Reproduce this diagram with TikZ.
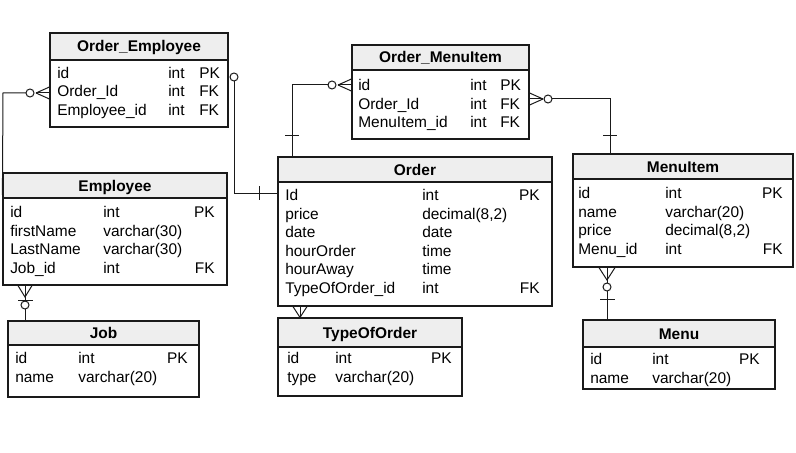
\documentclass[tikz,border=0pt]{standalone}
\usepackage{fontspec}
\setmainfont{Liberation Sans}
\usetikzlibrary{fit}
\definecolor{hdrgray}{HTML}{EEEEEE}
\definecolor{ink}{HTML}{1A1A1A}
\tikzset{
  tbox/.style={draw=ink, line width=0.9pt, fill=white, inner sep=0pt},
  thead/.style={draw=ink, line width=0.9pt, fill=hdrgray, inner sep=0pt},
  ttitle/.style={anchor=base, inner sep=0pt, font=\fontsize{11.6}{13}\selectfont\bfseries},
  cell/.style={anchor=base west, inner sep=0pt, font=\fontsize{11.6}{13}\selectfont},
  conn/.style={draw=ink, line width=0.75pt},
  ring/.style={draw=ink, line width=0.75pt, fill=white, circle, minimum size=6pt, inner sep=0pt}
}
\newcommand\erow[9]{% id, y, xn, xt, xk, name, type, key, key anchor
  \node[cell] (#1-n) at (#3,#2) {#6};
  \node[cell] (#1-t) at (#4,#2) {#7};
  \if\relax\detokenize{#8}\relax\else
  \node[cell,anchor=base #9] (#1-k) at (#5,#2) {#8};\fi}
\begin{document}
\begin{tikzpicture}[x=0.75pt,y=-0.75pt]
\useasboundingbox (0,0) rectangle (796,453);

% ---------- Order_Employee
\node[tbox, fit={(50,33) (228,127)}] (oe) {};
\node[thead, fit={(50,33) (228,60)}] (oe-h) {};
\node[ttitle] (oe-t) at (139,52) {Order\_Employee};
\erow{oe1}{78.5}{57}{168}{199}{id}{int}{PK}{west}
\erow{oe2}{97}{57}{168}{199}{Order\_Id}{int}{FK}{west}
\erow{oe3}{115.5}{57}{168}{199}{Employee\_id}{int}{FK}{west}

% ---------- Order_MenuItem
\node[tbox, fit={(352,45) (529,139)}] (om) {};
\node[thead, fit={(352,45) (529,70)}] (om-h) {};
\node[ttitle] (om-t) at (440.5,63) {Order\_MenuItem};
\erow{om1}{90.5}{358}{470}{500}{id}{int}{PK}{west}
\erow{om2}{109}{358}{470}{500}{Order\_Id}{int}{FK}{west}
\erow{om3}{127.5}{358}{470}{500}{MenuItem\_id}{int}{FK}{west}

% ---------- Employee
\node[tbox, fit={(3,173) (227,285)}] (emp) {};
\node[thead, fit={(3,173) (227,198)}] (emp-h) {};
\node[ttitle] (emp-t) at (115,191) {Employee};
\erow{e1}{217.5}{10}{103}{215}{id}{int}{PK}{east}
\erow{e2}{236.2}{10}{103}{215}{firstName}{varchar(30)}{}{east}
\erow{e3}{254.9}{10}{103}{215}{LastName}{varchar(30)}{}{east}
\erow{e4}{273.6}{10}{103}{215}{Job\_id}{int}{FK}{east}

% ---------- Order
\node[tbox, fit={(278,157) (552,306)}] (ord) {};
\node[thead, fit={(278,157) (552,182)}] (ord-h) {};
\node[ttitle] (ord-t) at (415,175) {Order};
\erow{o1}{200.5}{285}{422}{540}{Id}{int}{PK}{east}
\erow{o2}{219.1}{285}{422}{540}{price}{decimal(8,2)}{}{east}
\erow{o3}{237.7}{285}{422}{540}{date}{date}{}{east}
\erow{o4}{256.3}{285}{422}{540}{hourOrder}{time}{}{east}
\erow{o5}{274.9}{285}{422}{540}{hourAway}{time}{}{east}
\erow{o6}{293.5}{285}{422}{540}{TypeOfOrder\_id}{int}{FK}{east}

% ---------- MenuItem
\node[tbox, fit={(573,154) (793,267)}] (mi) {};
\node[thead, fit={(573,154) (793,179)}] (mi-h) {};
\node[ttitle] (mi-t) at (683,172) {MenuItem};
\erow{m1}{198.5}{578}{665}{783}{id}{int}{PK}{east}
\erow{m2}{217.2}{578}{665}{783}{name}{varchar(20)}{}{east}
\erow{m3}{235.9}{578}{665}{783}{price}{decimal(8,2)}{}{east}
\erow{m4}{254.6}{578}{665}{783}{Menu\_id}{int}{FK}{east}

% ---------- Job
\node[tbox, fit={(8,321) (199,397)}] (job) {};
\node[thead, fit={(8,321) (199,345)}] (job-h) {};
\node[ttitle] (job-t) at (103.5,338.5) {Job};
\erow{j1}{363.5}{15}{78}{188}{id}{int}{PK}{east}
\erow{j2}{382.2}{15}{78}{188}{name}{varchar(20)}{}{east}

% ---------- TypeOfOrder
\node[tbox, fit={(278,318) (462,396)}] (too) {};
\node[thead, fit={(278,318) (462,347)}] (too-h) {};
\node[ttitle] (too-t) at (370,338) {TypeOfOrder};
\erow{t1}{363.5}{287}{335}{452}{id}{int}{PK}{east}
\erow{t2}{382.2}{287}{335}{452}{type}{varchar(20)}{}{east}

% ---------- Menu
\node[tbox, fit={(583,320) (775,389)}] (menu) {};
\node[thead, fit={(583,320) (775,347)}] (menu-h) {};
\node[ttitle] (menu-t) at (679,339) {Menu};
\erow{n1}{364.5}{590}{652}{760}{id}{int}{PK}{east}
\erow{n2}{383.2}{590}{652}{760}{name}{varchar(20)}{}{east}

% ---------- connectors
% Order_Employee (many, optional) -- Employee
\coordinate (c1) at (30,93);
\draw[conn] (c1) -- (3,93) -- (emp.north west |- 0,195);
\draw[conn] (36,93) -- (oe.west |- 0,87);
\draw[conn] (36,93) -- (oe.west |- 0,93);
\draw[conn] (36,93) -- (oe.west |- 0,99);
\node[ring] (r1) at (c1) {};

% Order_Employee (zero or one) -- Order
\coordinate (c2) at (234,77);
\draw[conn] (c2) -- (234,193) -- (ord.west |- 0,193);
\draw[conn] (259,186) -- (259,200);
\node[ring] (r2) at (c2) {};

% Order_MenuItem -- Order
\coordinate (c3) at (332,85);
\draw[conn] (c3) -- (292,85) -- (ord.north -| 292,0);
\draw[conn] (285,135) -- (299,135);
\draw[conn] (338,85) -- (om.west |- 0,79);
\draw[conn] (338,85) -- (om.west |- 0,85);
\draw[conn] (338,85) -- (om.west |- 0,91);
\node[ring] (r3) at (c3) {};

% Order_MenuItem -- MenuItem
\coordinate (c4) at (548,99);
\draw[conn] (c4) -- (610,99) -- (mi.north -| 610,0);
\draw[conn] (603,135) -- (617,135);
\draw[conn] (543,99) -- (om.east |- 0,93);
\draw[conn] (543,99) -- (om.east |- 0,99);
\draw[conn] (543,99) -- (om.east |- 0,105);
\node[ring] (r4) at (c4) {};

% Employee -- Job
\coordinate (c5) at (25,305);
\draw[conn] (emp.south -| 25,0) -- (job.north -| 25,0);
\draw[conn] (emp.south -| 18,0) -- (25,297) -- (emp.south -| 32,0);
\draw[conn] (18,300) -- (33,300);
\node[ring] (r5) at (c5) {};

% Order -- TypeOfOrder
\draw[conn] (ord.south -| 300,0) -- (too.north -| 300,0);
\draw[conn] (ord.south -| 293,0) -- (too.north -| 300,0) -- (ord.south -| 307,0);

% MenuItem -- Menu
\coordinate (c6) at (607,287);
\draw[conn] (mi.south -| 607,0) -- (menu.north -| 607,0);
\draw[conn] (mi.south -| 599,0) -- (607,280) -- (mi.south -| 615,0);
\draw[conn] (600,299) -- (615,299);
\node[ring] (r6) at (c6) {};
\end{tikzpicture}
\end{document}
